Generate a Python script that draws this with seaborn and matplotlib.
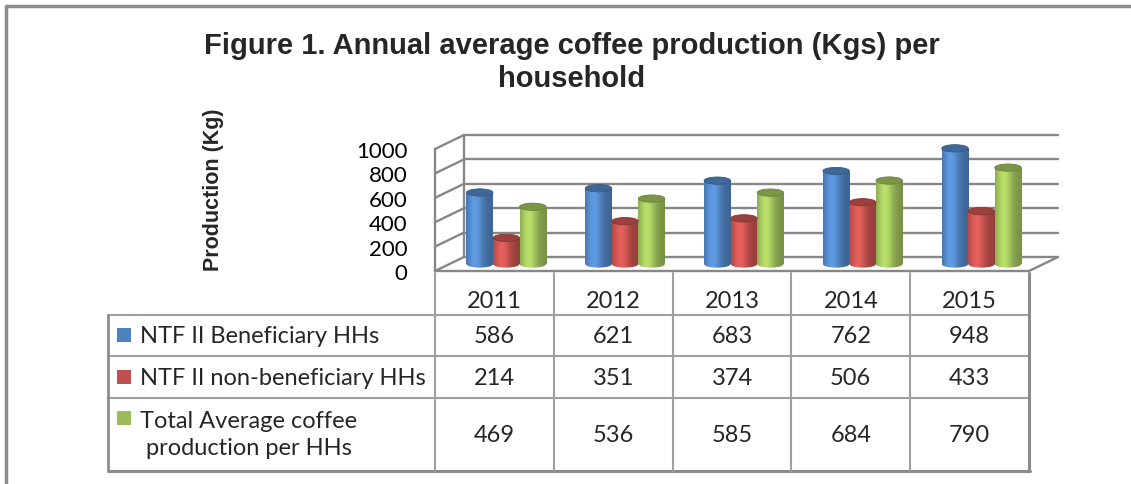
import numpy as np
import pandas as pd
import matplotlib
matplotlib.use("Agg")
import matplotlib.pyplot as plt
import seaborn as sns
from matplotlib.patches import Ellipse, Rectangle
from matplotlib.lines import Line2D
from matplotlib.transforms import blended_transform_factory

# ---------------- data ----------------
years = ["2011", "2012", "2013", "2014", "2015"]
beneficiary = [586, 621, 683, 762, 948]
non_beneficiary = [214, 351, 374, 506, 433]
total_average = [469, 536, 585, 684, 790]
series_names = ["NTF II Beneficiary HHs",
                "NTF II non-beneficiary HHs",
                "Total Average coffee\nproduction per HHs"]
series_colors = ["#4F81BD", "#C0504D", "#9BBB59"]
y_ticks = [0, 200, 400, 600, 800, 1000]
title_lines = ["Figure 1. Annual average coffee production (Kgs) per", "household"]
y_label = "Production (Kg)"

series_values = [beneficiary, non_beneficiary, total_average]
df = pd.DataFrame({
    "Year": np.repeat([years], 3, axis=0).ravel(),
    "Series": np.repeat(series_names, len(years)),
    "Production": np.concatenate(series_values),
})

# ---------------- layout helpers ----------------
W, H = 1131, 485
sns.set_theme(style="white")
plt.rcParams["font.family"] = ["Lato", "DejaVu Sans"]

fig = plt.figure(figsize=(W / 100, H / 100), dpi=100)
fig.patch.set_facecolor("white")


def fx(px):
    return px / W


def fy(py):
    return 1 - py / H


X0, X1 = 435, 1029      # front face of plot / table columns
Y_FRONT0 = 272          # pixel row of value 0 on the front plane
PXU = 0.122             # pixels per unit
DEPTH_PX_X, DEPTH_PX_Y = 29, 14
DY = DEPTH_PX_Y / PXU               # depth offset in value units
DX = DEPTH_PX_X / ((X1 - X0) / 5)   # depth offset in category units
YLO = -DY / 2                        # bars sit at mid depth
YMAX = 1200
ax_h_px = (YMAX - YLO) * PXU
ax = fig.add_axes([fx(X0), fy(Y_FRONT0), (X1 - X0) / W, ax_h_px / H])
ax.patch.set_alpha(0)

# ---------------- bars ----------------
sns.barplot(data=df, x="Year", y="Production", hue="Series",
            hue_order=series_names, palette=series_colors, width=0.67,
            saturation=1, legend=False, ax=ax, zorder=3, linewidth=0)

XL = (-0.6, 4.4)
ax.set_xlim(*XL)
ax.set_ylim(YLO, YMAX)

# cylinder shading for each bar drawn by seaborn
gx = np.linspace(0, 1, 64)
shade = 0.78 + 0.42 * np.exp(-((gx - 0.33) / 0.32) ** 2)
cap_h = 60
for p in list(ax.patches):
    h = p.get_height()
    if h <= 0:
        continue
    x, w = p.get_x(), p.get_width()
    rgb = np.array(p.get_facecolor()[:3])
    grad = np.clip(rgb[None, :] * shade[:, None], 0, 1)[None, :, :]
    im = ax.imshow(grad, extent=[x, x + w, 0, h], aspect="auto", zorder=3.5,
                   interpolation="bilinear")
    im.set_clip_path(p)
    bot = Ellipse((x + w / 2, 0), w, cap_h, facecolor="none", edgecolor="none")
    ax.add_patch(bot)
    im2 = ax.imshow(grad, extent=[x, x + w, -cap_h / 2, 0], aspect="auto",
                    zorder=3.5, interpolation="bilinear")
    im2.set_clip_path(bot)
    ax.add_patch(Ellipse((x + w / 2, h), w, cap_h, facecolor=tuple(rgb * 0.8),
                         edgecolor=tuple(rgb * 0.7), lw=0.6, zorder=4))
ax.set_xlim(*XL)
ax.set_ylim(YLO, YMAX)

# ---------------- 3D-like walls ----------------
F = -DY / 2   # front plane offset
B = DY / 2    # back plane offset
wall = dict(color="#878787", lw=1.7, clip_on=False, zorder=1,
            solid_capstyle="round")
for v in y_ticks:
    ax.plot([XL[0] + DX, XL[1] + DX], [v + B, v + B], **wall)
    ax.plot([XL[0], XL[0] + DX], [v + F, v + B], **wall)
ax.plot([XL[0], XL[0]], [F, y_ticks[-1] + F], **wall)
ax.plot([XL[0] + DX, XL[0] + DX], [B, y_ticks[-1] + B], **wall)
ax.plot([XL[0], XL[1]], [F, F], **wall)
ax.plot([XL[1], XL[1] + DX], [F, B], **wall)

ax.set_yticks([v + F for v in y_ticks])
ax.set_yticklabels([str(t) for t in y_ticks], fontsize=16, color="black")
ax.tick_params(axis="y", length=0, pad=20)
ax.set_xticks([])
ax.set_xlabel("")
ax.set_ylabel("")
for s in ax.spines.values():
    s.set_visible(False)

# ---------------- titles ----------------
fig.text(fx(572), fy(46), title_lines[0], ha="center", va="center",
         fontsize=21, fontweight="bold", family=["Liberation Sans"])
fig.text(fx(572), fy(79), title_lines[1], ha="center", va="center",
         fontsize=21, fontweight="bold", family=["Liberation Sans"])
fig.text(fx(213), fy(190), y_label, rotation=90, ha="center", va="center",
         fontsize=15.5, fontweight="bold", family=["Liberation Sans"])

# ---------------- data table ----------------
line_c = "#A0A0A0"


def hline(x0, x1, y, lw=1.5, c=line_c):
    fig.add_artist(Line2D([fx(x0), fx(x1)], [fy(y), fy(y)],
                          transform=fig.transFigure, color=c, lw=lw))


def vline(x, y0, y1, lw=1.5, c=line_c):
    fig.add_artist(Line2D([fx(x), fx(x)], [fy(y0), fy(y1)],
                          transform=fig.transFigure, color=c, lw=lw))


TL, TT, TB = 108, 316, 472
row_lines = [316, 357, 399]
col_step = (X1 - X0) / 5
for y in row_lines:
    hline(TL, X1, y)
hline(TL, X1 + 1, TB, lw=2.2, c="#8C8C8C")
vline(TL, TT, TB, lw=2.0, c="#8C8C8C")
for i in range(6):
    xx = X0 + i * col_step
    if i == 5:
        vline(xx, Y_FRONT0 + 2, TB, lw=2.2, c="#8C8C8C")
    else:
        vline(xx, Y_FRONT0 + 2, TB)

TFS = 17
tr = blended_transform_factory(ax.transData, fig.transFigure)
row_centers = [337, 379, 436]
for i, yr in enumerate(years):
    ax.text(i - 0.1, fy(301), yr, transform=tr, ha="center", va="center",
            fontsize=TFS)
    for r, vals in enumerate(series_values):
        ax.text(i - 0.1, fy(row_centers[r]), str(vals[i]), transform=tr,
                ha="center", va="center", fontsize=TFS)

# row labels with legend keys
fig.text(fx(140), fy(337), series_names[0], ha="left", va="center", fontsize=TFS)
fig.text(fx(140), fy(379), series_names[1], ha="left", va="center", fontsize=TFS)
fig.text(fx(249), fy(435), series_names[2], ha="center", va="center",
         fontsize=TFS, multialignment="center", linespacing=1.35)
key_y = [336, 378, 419]
for r in range(3):
    fig.add_artist(Rectangle((fx(117), fy(key_y[r] + 7)), 14 / W, 14 / H,
                             transform=fig.transFigure,
                             facecolor=series_colors[r], edgecolor="none"))

# ---------------- outer frame ----------------
fig.add_artist(Line2D([fx(6), fx(6)], [fy(7), fy(485)], transform=fig.transFigure,
                      color="#8C8C8C", lw=2.5))
fig.add_artist(Line2D([fx(6), fx(1131)], [fy(7), fy(7)], transform=fig.transFigure,
                      color="#8C8C8C", lw=2.5))

fig.savefig("out.png", dpi=100, facecolor="white")
